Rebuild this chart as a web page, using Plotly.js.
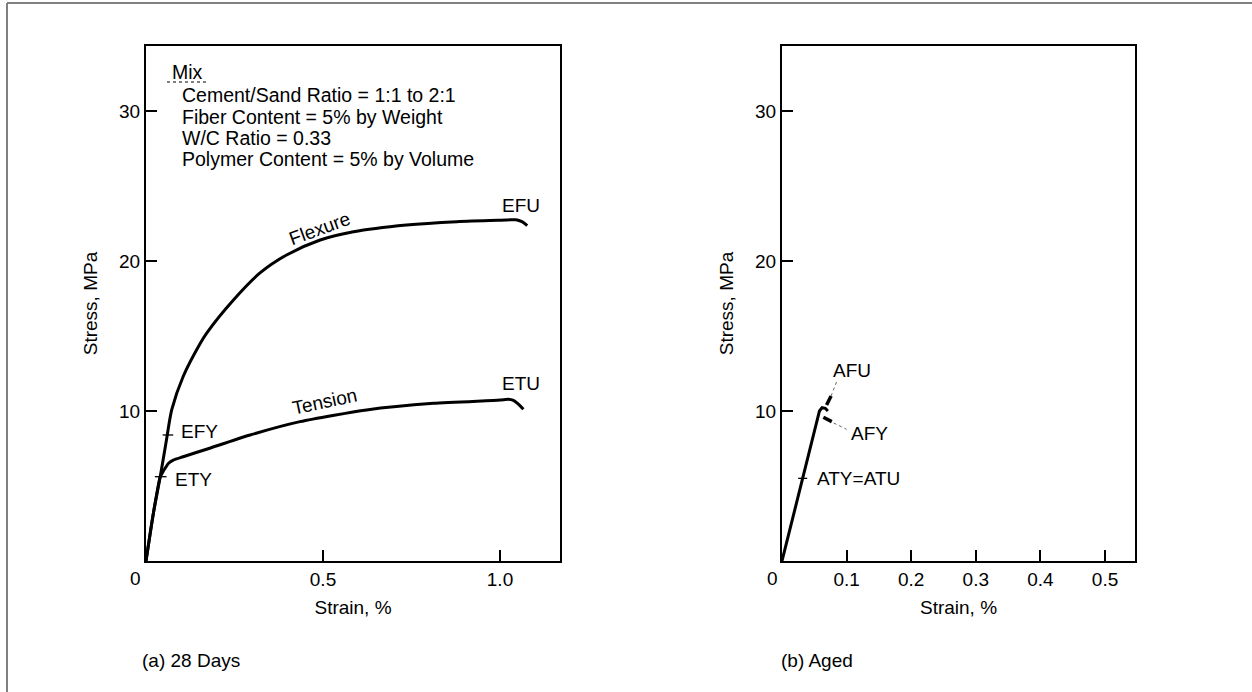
<!DOCTYPE html>
<html><head><meta charset="utf-8">
<script src="https://cdn.plot.ly/plotly-3.0.1.min.js"></script>
<style>html,body{margin:0;padding:0;background:#fff;} #chart{width:1252px;height:692px;}</style>
</head><body><div id="chart"></div>
<script>
// ---------- Panel (a): 28 days ----------
const flexureStrain = [0, 0.021, 0.040, 0.058, 0.073, 0.105, 0.153, 0.171, 0.247, 0.322, 0.397, 0.492, 0.586, 0.736, 0.878, 1.019, 1.045, 1.062, 1.077];
const flexureStress = [0, 3.2, 5.6, 8.1, 10.1, 12.3, 14.5, 15.18, 17.4, 19.2, 20.4, 21.4, 21.95, 22.4, 22.62, 22.73, 22.75, 22.62, 22.35];
const tensionStrain = [0, 0.021, 0.040, 0.048, 0.054, 0.063, 0.077, 0.105, 0.171, 0.294, 0.435, 0.623, 0.812, 1.000, 1.023, 1.038, 1.052, 1.066];
const tensionStress = [0, 3.2, 5.6, 5.95, 6.18, 6.5, 6.73, 6.95, 7.45, 8.4, 9.29, 10.07, 10.51, 10.73, 10.78, 10.7, 10.45, 10.11];
const efyMarkStrain = [0.047, 0.077];
const efyMarkStress = [8.4, 8.4];
const etyMarkStrain = [0.025, 0.058];
const etyMarkStress = [5.62, 5.62];

// ---------- Panel (b): aged ----------
const agedStrain = [0, 0.058, 0.062, 0.067, 0.071];
const agedStress = [0, 10.0, 10.22, 10.18, 10.0];
const afuDashStrain = [0.069, 0.076];
const afuDashStress = [10.4, 11.0];
const afyDashStrain = [0.064, 0.077];
const afyDashStress = [9.58, 9.29];
const afuLeaderStrain = [0.076, 0.085];
const afuLeaderStress = [11.0, 12.0];
const afyLeaderStrain = [0.080, 0.100];
const afyLeaderStress = [9.2, 8.78];
const atyMarkStrain = [0.025, 0.039];
const atyMarkStress = [5.51, 5.51];

// ---------- Ticks and texts ----------
const xTickValsA = [0.5, 1.0];
const xTickTextA = ['0.5', '1.0'];
const xTickValsB = [0.1, 0.2, 0.3, 0.4, 0.5];
const xTickTextB = ['0.1', '0.2', '0.3', '0.4', '0.5'];
const yTickVals = [10, 20, 30];
const yTickText = ['10', '20', '30'];
const originLabel = '0';
const xTitle = 'Strain, %';
const yTitle = 'Stress, MPa';
const mixHeading = 'Mix';
const mixLines = ['Cement/Sand Ratio = 1:1 to 2:1', 'Fiber Content = 5% by Weight', 'W/C Ratio = 0.33', 'Polymer Content = 5% by Volume'];
const captions = ['(a) 28 Days', '(b) Aged'];

// ---------- helpers ----------
const W = 1252, H = 692;
const px = v => v / W;
const py = v => 1 - v / H;
const FONT = 'Liberation Sans, Arial, Helvetica, sans-serif';
const f = (s) => ({family: FONT, size: s, color: '#000'});

function line(x, y, xa, ya, w, extra) {
  return Object.assign({x: x, y: y, xaxis: xa, yaxis: ya, type: 'scatter', mode: 'lines',
    line: {color: '#000', width: w}, hoverinfo: 'skip', showlegend: false}, extra || {});
}

const data = [
  line(flexureStrain, flexureStress, 'x', 'y', 3, {line: {color: '#000', width: 3, shape: 'spline', smoothing: 0.8}}),
  line(tensionStrain, tensionStress, 'x', 'y', 3, {line: {color: '#000', width: 3, shape: 'spline', smoothing: 0.6}}),
  line(efyMarkStrain, efyMarkStress, 'x', 'y', 1.3),
  line(etyMarkStrain, etyMarkStress, 'x', 'y', 1.3),
  line(agedStrain, agedStress, 'x2', 'y2', 3),
  line(afuDashStrain, afuDashStress, 'x2', 'y2', 3.5),
  line(afyDashStrain, afyDashStress, 'x2', 'y2', 3.5),
  line(afuLeaderStrain, afuLeaderStress, 'x2', 'y2', 1, {line: {color: '#666', width: 1, dash: 'dot'}}),
  line(afyLeaderStrain, afyLeaderStress, 'x2', 'y2', 1, {line: {color: '#666', width: 1, dash: 'dot'}}),
  line(atyMarkStrain, atyMarkStress, 'x2', 'y2', 1.3)
];

const yDom = [(H - 561) / H, (H - 46) / H];
const axisCommon = {
  showline: true, mirror: true, linewidth: 2, linecolor: '#000',
  ticks: 'inside', ticklen: 11, tickwidth: 2, tickcolor: '#000',
  showgrid: false, zeroline: false, tickfont: f(19), fixedrange: true
};

const layout = {
  width: W, height: H,
  margin: {l: 0, r: 0, t: 0, b: 0},
  paper_bgcolor: '#fff', plot_bgcolor: '#fff',
  showlegend: false,
  xaxis: Object.assign({}, axisCommon, {domain: [px(146), px(560)], range: [0, 1.1695], anchor: 'y',
    tickmode: 'array', tickvals: xTickValsA, ticktext: xTickTextA,
    title: {text: xTitle, font: f(19), standoff: 12}}),
  yaxis: Object.assign({}, axisCommon, {domain: yDom, range: [0, 34.33], anchor: 'x',
    tickmode: 'array', tickvals: yTickVals, ticktext: yTickText,
    title: {text: yTitle, font: f(19), standoff: 16}}),
  xaxis2: Object.assign({}, axisCommon, {domain: [px(782), px(1135)], range: [0, 0.5464], anchor: 'y2',
    tickmode: 'array', tickvals: xTickValsB, ticktext: xTickTextB,
    title: {text: xTitle, font: f(19), standoff: 12}}),
  yaxis2: Object.assign({}, axisCommon, {domain: yDom, range: [0, 34.33], anchor: 'x2',
    tickmode: 'array', tickvals: yTickVals, ticktext: yTickText,
    title: {text: yTitle, font: f(19), standoff: 16}}),
  annotations: [],
  shapes: [
    {type: 'line', xref: 'paper', yref: 'paper', x0: px(7), x1: 1, y0: py(3), y1: py(3), line: {color: '#808080', width: 2}},
    {type: 'line', xref: 'paper', yref: 'paper', x0: px(7), x1: px(7), y0: py(3), y1: 0, line: {color: '#808080', width: 2}},
    {type: 'line', xref: 'paper', yref: 'paper', x0: px(167), x1: px(207), y0: py(82), y1: py(82), line: {color: '#000', width: 1, dash: 'dot'}}
  ]
};

const A = layout.annotations;
function ann(o) { A.push(Object.assign({showarrow: false, font: f(19)}, o)); }

// origin labels
ann({text: originLabel, xref: 'paper', yref: 'paper', x: px(135), y: py(578), xanchor: 'center', yanchor: 'middle'});
ann({text: originLabel, xref: 'paper', yref: 'paper', x: px(772), y: py(578), xanchor: 'center', yanchor: 'middle'});

// Mix block
ann({text: mixHeading, xref: 'paper', yref: 'paper', x: px(170), y: py(72), xanchor: 'left', yanchor: 'middle', font: f(19.5)});
const mixY = [95, 116.5, 137.5, 158.5];
mixLines.forEach((t, i) => ann({text: t, xref: 'paper', yref: 'paper', x: px(180), y: py(mixY[i]), xanchor: 'left', yanchor: 'middle', font: f(19.5)}));

// curve labels panel (a)
ann({text: 'EFU', xref: 'x', yref: 'y', x: 1.058, y: 23.73, xanchor: 'center', yanchor: 'middle'});
ann({text: 'ETU', xref: 'x', yref: 'y', x: 1.059, y: 11.85, xanchor: 'center', yanchor: 'middle'});
ann({text: 'Flexure', xref: 'x', yref: 'y', x: 0.4915, y: 22.15, xanchor: 'center', yanchor: 'middle', textangle: -20});
ann({text: 'Tension', xref: 'x', yref: 'y', x: 0.5056, y: 10.62, xanchor: 'center', yanchor: 'middle', textangle: -12});
ann({text: 'EFY', xref: 'x', yref: 'y', x: 0.094, y: 8.62, xanchor: 'left', yanchor: 'middle'});
ann({text: 'ETY', xref: 'x', yref: 'y', x: 0.075, y: 5.4, xanchor: 'left', yanchor: 'middle'});

// curve labels panel (b)
ann({text: 'AFU', xref: 'x2', yref: 'y2', x: 0.108, y: 12.73, xanchor: 'center', yanchor: 'middle'});
ann({text: 'AFY', xref: 'x2', yref: 'y2', x: 0.136, y: 8.51, xanchor: 'center', yanchor: 'middle'});
ann({text: 'ATY=ATU', xref: 'x2', yref: 'y2', x: 0.051, y: 5.51, xanchor: 'left', yanchor: 'middle'});

// captions
ann({text: captions[0], xref: 'paper', yref: 'paper', x: px(140), y: py(660), xanchor: 'left', yanchor: 'middle'});
ann({text: captions[1], xref: 'paper', yref: 'paper', x: px(779), y: py(660), xanchor: 'left', yanchor: 'middle'});

Plotly.newPlot('chart', data, layout, {staticPlot: true, displayModeBar: false});
</script>
</body></html>
